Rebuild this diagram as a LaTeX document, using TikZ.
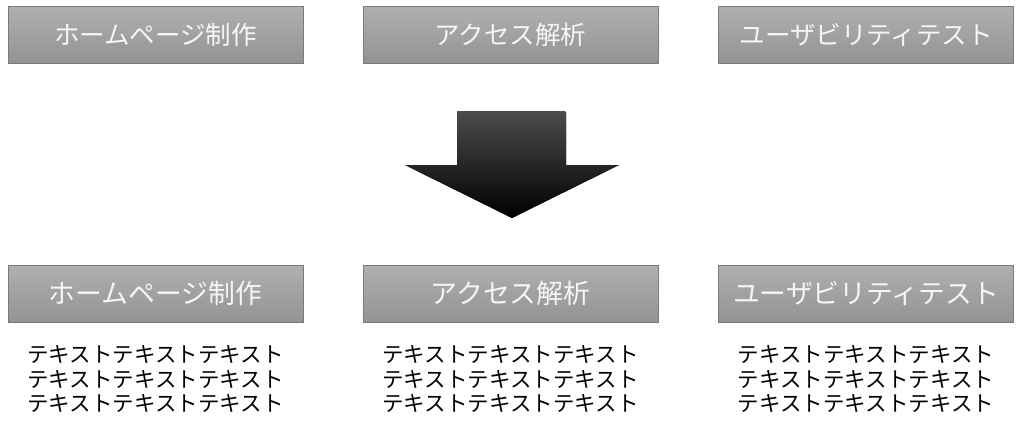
\documentclass[tikz,border=0pt]{standalone}
\usepackage{fontspec}
\newfontfamily\jp{Noto Sans CJK JP}
\definecolor{boxtop}{HTML}{B0B0B0}
\definecolor{boxbot}{HTML}{939393}
\definecolor{boxedge}{HTML}{7A7A7A}
\definecolor{boxtext}{HTML}{F6F6F6}
\definecolor{arrtop}{HTML}{4C4C4C}
\tikzset{
  hbox/.style={minimum width=295pt, minimum height=57pt, inner sep=0pt,
    top color=boxtop, bottom color=boxbot, draw=boxedge, line width=0.8pt,
    text=boxtext},
  htext/.style={font=\jp\fontsize{25.5}{30}\selectfont},
  htextb/.style={font=\jp\fontsize{26.8}{30}\selectfont},
  body/.style={font=\jp\fontsize{21.5}{24.5}\selectfont, align=center, inner sep=0pt, text=black}
}
\begin{document}
\begin{tikzpicture}[x=1pt,y=-1pt]
\useasboundingbox[fill=white] (0,0) rectangle (1024,434);
% top row
\node[hbox,htext] (t1) at (155.5,34.5) {ホームページ制作};
\node[hbox,htext] (t2) at (510.5,34.5) {アクセス解析};
\node[hbox,htext] (t3) at (866,34.5) {ユーザビリティテスト};
% arrow
\fill[top color=arrtop, middle color=black, bottom color=black, rounded corners=2pt]
  (457,111) -- (566,111) [sharp corners]-- (566,165) -- (619,165) -- (512,218) -- (405,165) -- (457,165) -- cycle;
% bottom row
\node[hbox,htextb] (b1) at (155.5,293.5) {ホームページ制作};
\node[hbox,htextb] (b2) at (510.5,293.5) {アクセス解析};
\node[hbox,htextb] (b3) at (866,293.5) {ユーザビリティテスト};
\node[body] (d1) at (155.5,379.5) {テキストテキストテキスト\\テキストテキストテキスト\\テキストテキストテキスト};
\node[body] (d2) at (510.5,379.5) {テキストテキストテキスト\\テキストテキストテキスト\\テキストテキストテキスト};
\node[body] (d3) at (866,379.5) {テキストテキストテキスト\\テキストテキストテキスト\\テキストテキストテキスト};
\end{tikzpicture}
\end{document}
